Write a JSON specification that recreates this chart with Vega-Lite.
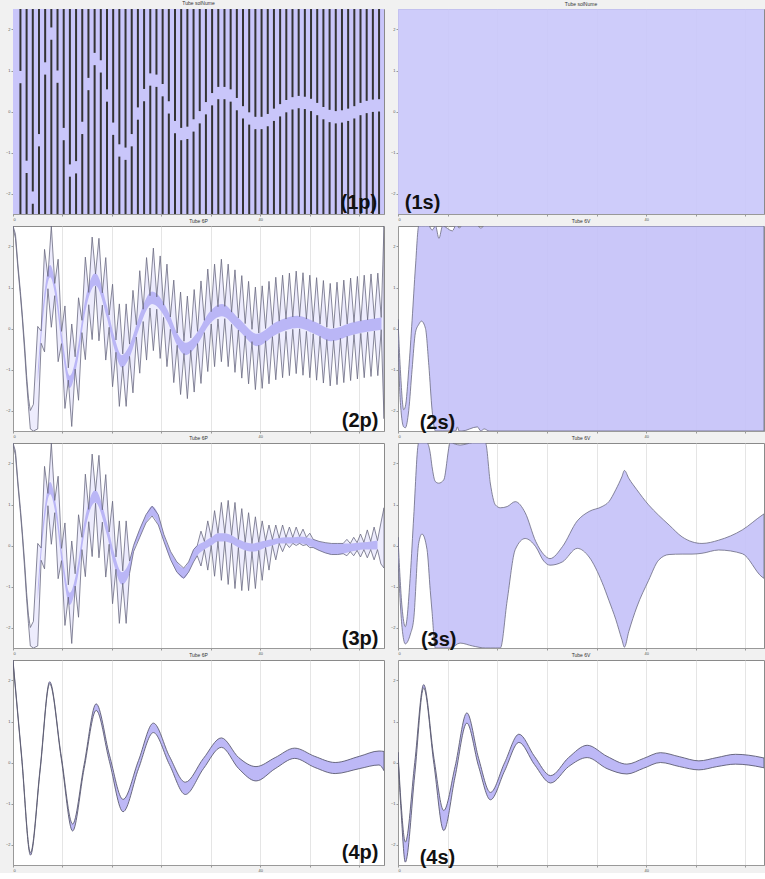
{
"$schema": "https://vega.github.io/schema/vega-lite/v6.json",
"background": "#f1f1f1",
"padding": {"left": 4, "top": 0, "right": 0, "bottom": 0},
"bounds": "flush",
"columns": 2,
"spacing": {"row": 12, "column": 14},
"config": {
  "view": {"stroke": "#8a8a8a", "fill": "#ffffff"},
  "axisX": {"labelExpr": "datum.value % 10 === 0 ? datum.label : ''", "grid": true, "gridColor": "#dadada", "gridWidth": 0.7, "labelFontSize": 4, "labelColor": "#555", "tickSize": 2, "tickColor": "#999", "domainColor": "#999", "labelPadding": 1},
  "axisY": {"grid": false, "labelFontSize": 4, "labelColor": "#555", "tickSize": 2, "tickColor": "#999", "domainColor": "#999", "labelPadding": 1},
  "title": {"fontSize": 5, "fontWeight": "normal", "color": "#333", "offset": 2}
},
"datasets": {
"full": [{"x":0,"lo":-2.5,"hi":2.5},{"x":60,"lo":-2.5,"hi":2.5}],
"p1s": [{"x":1.2,"lo":-2.5,"hi":0.69},{"x":1.2,"lo":0.99,"hi":2.5},{"x":2.2,"lo":-2.5,"hi":-1.5},{"x":2.2,"lo":-1.2,"hi":2.5},{"x":3.2,"lo":-2.5,"hi":-2.25},{"x":3.2,"lo":-1.95,"hi":2.5},{"x":4.2,"lo":-2.5,"hi":-0.85},{"x":4.2,"lo":-0.55,"hi":2.5},{"x":5.2,"lo":-2.5,"hi":0.9},{"x":5.2,"lo":1.2,"hi":2.5},{"x":6.2,"lo":-2.5,"hi":1.75},{"x":6.2,"lo":2.05,"hi":2.5},{"x":7.2,"lo":-2.5,"hi":0.7},{"x":7.2,"lo":1.0,"hi":2.5},{"x":8.2,"lo":-2.5,"hi":-0.7},{"x":8.2,"lo":-0.4,"hi":2.5},{"x":9.2,"lo":-2.5,"hi":-1.59},{"x":9.2,"lo":-1.29,"hi":2.5},{"x":10.2,"lo":-2.5,"hi":-1.51},{"x":10.2,"lo":-1.21,"hi":2.5},{"x":11.2,"lo":-2.5,"hi":-0.55},{"x":11.2,"lo":-0.25,"hi":2.5},{"x":12.2,"lo":-2.5,"hi":0.52},{"x":12.2,"lo":0.82,"hi":2.5},{"x":13.2,"lo":-2.5,"hi":1.13},{"x":13.2,"lo":1.43,"hi":2.5},{"x":14.2,"lo":-2.5,"hi":0.95},{"x":14.2,"lo":1.25,"hi":2.5},{"x":15.2,"lo":-2.5,"hi":0.24},{"x":15.2,"lo":0.54,"hi":2.5},{"x":16.2,"lo":-2.5,"hi":-0.57},{"x":16.2,"lo":-0.27,"hi":2.5},{"x":17.2,"lo":-2.5,"hi":-1.1},{"x":17.2,"lo":-0.8,"hi":2.5},{"x":18.2,"lo":-2.5,"hi":-1.18},{"x":18.2,"lo":-0.88,"hi":2.5},{"x":19.2,"lo":-2.5,"hi":-0.85},{"x":19.2,"lo":-0.55,"hi":2.5},{"x":20.2,"lo":-2.5,"hi":-0.2},{"x":20.2,"lo":0.1,"hi":2.5},{"x":21.2,"lo":-2.5,"hi":0.25},{"x":21.2,"lo":0.55,"hi":2.5},{"x":22.2,"lo":-2.5,"hi":0.63},{"x":22.2,"lo":0.93,"hi":2.5},{"x":23.2,"lo":-2.5,"hi":0.6},{"x":23.2,"lo":0.9,"hi":2.5},{"x":24.2,"lo":-2.5,"hi":0.37},{"x":24.2,"lo":0.67,"hi":2.5},{"x":25.2,"lo":-2.5,"hi":-0.05},{"x":25.2,"lo":0.25,"hi":2.5},{"x":26.2,"lo":-2.5,"hi":-0.53},{"x":26.2,"lo":-0.23,"hi":2.5},{"x":27.2,"lo":-2.5,"hi":-0.7},{"x":27.2,"lo":-0.4,"hi":2.5},{"x":28.2,"lo":-2.5,"hi":-0.67},{"x":28.2,"lo":-0.37,"hi":2.5},{"x":29.2,"lo":-2.5,"hi":-0.49},{"x":29.2,"lo":-0.19,"hi":2.5},{"x":30.2,"lo":-2.5,"hi":-0.29},{"x":30.2,"lo":0.01,"hi":2.5},{"x":31.2,"lo":-2.5,"hi":-0.07},{"x":31.2,"lo":0.23,"hi":2.5},{"x":32.2,"lo":-2.5,"hi":0.15},{"x":32.2,"lo":0.45,"hi":2.5},{"x":33.2,"lo":-2.5,"hi":0.3},{"x":33.2,"lo":0.6,"hi":2.5},{"x":34.2,"lo":-2.5,"hi":0.3},{"x":34.2,"lo":0.6,"hi":2.5},{"x":35.2,"lo":-2.5,"hi":0.24},{"x":35.2,"lo":0.54,"hi":2.5},{"x":36.2,"lo":-2.5,"hi":0.03},{"x":36.2,"lo":0.33,"hi":2.5},{"x":37.2,"lo":-2.5,"hi":-0.17},{"x":37.2,"lo":0.13,"hi":2.5},{"x":38.2,"lo":-2.5,"hi":-0.32},{"x":38.2,"lo":-0.02,"hi":2.5},{"x":39.2,"lo":-2.5,"hi":-0.43},{"x":39.2,"lo":-0.13,"hi":2.5},{"x":40.2,"lo":-2.5,"hi":-0.43},{"x":40.2,"lo":-0.13,"hi":2.5},{"x":41.2,"lo":-2.5,"hi":-0.36},{"x":41.2,"lo":-0.06,"hi":2.5},{"x":42.2,"lo":-2.5,"hi":-0.23},{"x":42.2,"lo":0.07,"hi":2.5},{"x":43.2,"lo":-2.5,"hi":-0.12},{"x":43.2,"lo":0.18,"hi":2.5},{"x":44.2,"lo":-2.5,"hi":-0.02},{"x":44.2,"lo":0.28,"hi":2.5},{"x":45.2,"lo":-2.5,"hi":0.05},{"x":45.2,"lo":0.35,"hi":2.5},{"x":46.2,"lo":-2.5,"hi":0.08},{"x":46.2,"lo":0.38,"hi":2.5},{"x":47.2,"lo":-2.5,"hi":0.06},{"x":47.2,"lo":0.36,"hi":2.5},{"x":48.2,"lo":-2.5,"hi":0.01},{"x":48.2,"lo":0.31,"hi":2.5},{"x":49.2,"lo":-2.5,"hi":-0.09},{"x":49.2,"lo":0.21,"hi":2.5},{"x":50.2,"lo":-2.5,"hi":-0.19},{"x":50.2,"lo":0.11,"hi":2.5},{"x":51.2,"lo":-2.5,"hi":-0.26},{"x":51.2,"lo":0.04,"hi":2.5},{"x":52.2,"lo":-2.5,"hi":-0.29},{"x":52.2,"lo":0.01,"hi":2.5},{"x":53.2,"lo":-2.5,"hi":-0.27},{"x":53.2,"lo":0.03,"hi":2.5},{"x":54.2,"lo":-2.5,"hi":-0.23},{"x":54.2,"lo":0.07,"hi":2.5},{"x":55.2,"lo":-2.5,"hi":-0.17},{"x":55.2,"lo":0.13,"hi":2.5},{"x":56.2,"lo":-2.5,"hi":-0.09},{"x":56.2,"lo":0.21,"hi":2.5},{"x":57.2,"lo":-2.5,"hi":-0.04},{"x":57.2,"lo":0.26,"hi":2.5},{"x":58.2,"lo":-2.5,"hi":-0.01},{"x":58.2,"lo":0.29,"hi":2.5},{"x":59.2,"lo":-2.5,"hi":0.0},{"x":59.2,"lo":0.3,"hi":2.5}],
"p2z": [{"x":0,"lo":2.45,"hi":2.5},{"x":0.4,"lo":2.2,"hi":2.3},{"x":0.8,"lo":1.45,"hi":1.55},{"x":1.2,"lo":0.8,"hi":0.9},{"x":1.5,"lo":0.25,"hi":0.35},{"x":1.9,"lo":-0.6,"hi":-0.45},{"x":2.2,"lo":-1.3,"hi":-1.15},{"x":2.5,"lo":-1.9,"hi":-1.7},{"x":2.8,"lo":-2.45,"hi":-2.0},{"x":3.3,"lo":-2.5,"hi":-1.85},
{"x":4.0,"lo":-2.45,"hi":0.05},{"x":4.55,"lo":-0.36,"hi":-0.06},{"x":5.1,"lo":-0.57,"hi":1.93},{"x":5.65,"lo":0.97,"hi":1.27},{"x":6.2,"lo":0.03,"hi":2.5},{"x":6.75,"lo":0.8,"hi":1.1},{"x":7.3,"lo":-0.81,"hi":1.69},{"x":7.85,"lo":-0.37,"hi":-0.07},{"x":8.4,"lo":-1.95,"hi":0.55},{"x":8.95,"lo":-1.26,"hi":-0.96},{"x":9.5,"lo":-2.39,"hi":0.11},{"x":10.05,"lo":-0.99,"hi":-0.69},{"x":10.6,"lo":-1.75,"hi":0.75},{"x":11.15,"lo":-0.1,"hi":0.2},{"x":11.7,"lo":-0.76,"hi":1.74},{"x":12.25,"lo":0.58,"hi":0.88},{"x":12.8,"lo":-0.27,"hi":2.23},{"x":13.35,"lo":1.03,"hi":1.33},{"x":13.9,"lo":-0.3,"hi":2.2},{"x":14.45,"lo":0.57,"hi":0.87},{"x":15.0,"lo":-0.77,"hi":1.73},{"x":15.55,"lo":0.03,"hi":0.33},{"x":16.1,"lo":-1.42,"hi":1.08},{"x":16.65,"lo":-0.58,"hi":-0.28},{"x":17.2,"lo":-1.9,"hi":0.6},{"x":17.75,"lo":-0.92,"hi":-0.62},{"x":18.3,"lo":-1.9,"hi":0.6},{"x":18.85,"lo":-0.68,"hi":-0.38},{"x":19.4,"lo":-1.57,"hi":0.93},{"x":19.95,"lo":-0.21,"hi":0.09},{"x":20.5,"lo":-1.09,"hi":1.41},{"x":21.05,"lo":0.17,"hi":0.47},{"x":21.6,"lo":-0.77,"hi":1.73},{"x":22.15,"lo":0.5,"hi":0.8},{"x":22.7,"lo":-0.54,"hi":1.96},{"x":23.25,"lo":0.47,"hi":0.77},{"x":23.8,"lo":-0.73,"hi":1.77},{"x":24.35,"lo":0.27,"hi":0.57},{"x":24.9,"lo":-0.93,"hi":1.57},{"x":25.45,"lo":-0.02,"hi":0.28},{"x":26.0,"lo":-1.32,"hi":1.18},{"x":26.55,"lo":-0.41,"hi":-0.11},{"x":27.1,"lo":-1.61,"hi":0.89},{"x":27.65,"lo":-0.61,"hi":-0.31},{"x":28.2,"lo":-1.71,"hi":0.79},{"x":28.75,"lo":-0.53,"hi":-0.23},{"x":29.3,"lo":-1.55,"hi":0.95},{"x":29.85,"lo":-0.37,"hi":-0.07},{"x":30.4,"lo":-1.34,"hi":1.16},{"x":30.95,"lo":-0.1,"hi":0.2},{"x":31.5,"lo":-1.05,"hi":1.45},{"x":32.05,"lo":0.11,"hi":0.41},{"x":32.6,"lo":-0.93,"hi":1.57},{"x":33.15,"lo":0.23,"hi":0.53},{"x":33.7,"lo":-0.81,"hi":1.69},{"x":34.25,"lo":0.24,"hi":0.54},{"x":34.8,"lo":-0.93,"hi":1.57},{"x":35.35,"lo":0.1,"hi":0.4},{"x":35.9,"lo":-1.07,"hi":1.43},{"x":36.45,"lo":-0.04,"hi":0.26},{"x":37.0,"lo":-1.21,"hi":1.29},{"x":37.55,"lo":-0.18,"hi":0.12},{"x":38.1,"lo":-1.35,"hi":1.15},{"x":38.65,"lo":-0.32,"hi":-0.02},{"x":39.2,"lo":-1.49,"hi":1.01},{"x":39.75,"lo":-0.41,"hi":-0.11},{"x":40.3,"lo":-1.46,"hi":1.04},{"x":40.85,"lo":-0.3,"hi":0.0},{"x":41.4,"lo":-1.35,"hi":1.15},{"x":41.95,"lo":-0.2,"hi":0.1},{"x":42.5,"lo":-1.25,"hi":1.25},{"x":43.05,"lo":-0.12,"hi":0.18},{"x":43.6,"lo":-1.2,"hi":1.3},{"x":44.15,"lo":-0.07,"hi":0.23},{"x":44.7,"lo":-1.15,"hi":1.35},{"x":45.25,"lo":-0.02,"hi":0.28},{"x":45.8,"lo":-1.1,"hi":1.4},{"x":46.35,"lo":-0.01,"hi":0.29},{"x":46.9,"lo":-1.14,"hi":1.36},{"x":47.45,"lo":-0.07,"hi":0.23},{"x":48.0,"lo":-1.2,"hi":1.3},{"x":48.55,"lo":-0.13,"hi":0.17},{"x":49.1,"lo":-1.26,"hi":1.24},{"x":49.65,"lo":-0.19,"hi":0.11},{"x":50.2,"lo":-1.33,"hi":1.17},{"x":50.75,"lo":-0.27,"hi":0.03},{"x":51.3,"lo":-1.4,"hi":1.1},{"x":51.85,"lo":-0.29,"hi":0.01},{"x":52.4,"lo":-1.37,"hi":1.13},{"x":52.95,"lo":-0.24,"hi":0.06},{"x":53.5,"lo":-1.32,"hi":1.18},{"x":54.05,"lo":-0.19,"hi":0.11},{"x":54.6,"lo":-1.27,"hi":1.23},{"x":55.15,"lo":-0.15,"hi":0.15},{"x":55.7,"lo":-1.23,"hi":1.27},{"x":56.25,"lo":-0.12,"hi":0.18},{"x":56.8,"lo":-1.2,"hi":1.3},{"x":57.35,"lo":-0.09,"hi":0.21},{"x":57.9,"lo":-1.17,"hi":1.33},{"x":58.45,"lo":-0.06,"hi":0.24},{"x":59.0,"lo":-1.15,"hi":1.35},{"x":59.55,"lo":-0.03,"hi":0.27},{"x":60,"lo":-2.2,"hi":2.5}],
"p2c": [{"x":4.0,"lo":-1.35,"hi":-1.05},{"x":5.0,"lo":0.45,"hi":0.75},{"x":6.0,"lo":1.25,"hi":1.55},{"x":7.0,"lo":0.65,"hi":0.95},{"x":8.0,"lo":-0.55,"hi":-0.25},{"x":9.2,"lo":-1.45,"hi":-1.15},{"x":10.5,"lo":-0.75,"hi":-0.45},{"x":11.5,"lo":0.25,"hi":0.55},{"x":13.3,"lo":1.05,"hi":1.35},{"x":15.2,"lo":0.25,"hi":0.55},{"x":16.3,"lo":-0.45,"hi":-0.15},{"x":17.6,"lo":-0.95,"hi":-0.65},{"x":19.0,"lo":-0.65,"hi":-0.35},{"x":20.3,"lo":-0.05,"hi":0.25},{"x":22.5,"lo":0.6,"hi":0.9},{"x":25.0,"lo":0.15,"hi":0.45},{"x":26.5,"lo":-0.4,"hi":-0.1},{"x":27.9,"lo":-0.65,"hi":-0.35},{"x":30.0,"lo":-0.35,"hi":-0.05},{"x":31.5,"lo":0.05,"hi":0.35},{"x":33.8,"lo":0.3,"hi":0.6},{"x":36.5,"lo":-0.05,"hi":0.25},{"x":39.5,"lo":-0.43,"hi":-0.13},{"x":42.5,"lo":-0.15,"hi":0.15},{"x":46.0,"lo":0.01,"hi":0.31},{"x":49.0,"lo":-0.15,"hi":0.15},{"x":51.4,"lo":-0.31,"hi":-0.01},{"x":55.0,"lo":-0.15,"hi":0.15},{"x":59.6,"lo":-0.03,"hi":0.27}],
"p3z": [{"x":0,"lo":2.45,"hi":2.5},{"x":0.4,"lo":2.2,"hi":2.3},{"x":0.8,"lo":1.45,"hi":1.55},{"x":1.2,"lo":0.8,"hi":0.9},{"x":1.5,"lo":0.25,"hi":0.35},{"x":1.9,"lo":-0.6,"hi":-0.45},{"x":2.2,"lo":-1.3,"hi":-1.15},{"x":2.5,"lo":-1.9,"hi":-1.7},{"x":2.8,"lo":-2.45,"hi":-2.0},{"x":3.3,"lo":-2.5,"hi":-1.85},
{"x":4.0,"lo":-2.45,"hi":0.05},{"x":4.55,"lo":-0.36,"hi":-0.06},{"x":5.1,"lo":-0.57,"hi":1.93},{"x":5.65,"lo":0.97,"hi":1.27},{"x":6.2,"lo":0.03,"hi":2.5},{"x":6.75,"lo":0.8,"hi":1.1},{"x":7.3,"lo":-0.81,"hi":1.69},{"x":7.85,"lo":-0.37,"hi":-0.07},{"x":8.4,"lo":-1.95,"hi":0.55},{"x":8.95,"lo":-1.26,"hi":-0.96},{"x":9.5,"lo":-2.39,"hi":0.11},{"x":10.05,"lo":-0.99,"hi":-0.69},{"x":10.6,"lo":-1.75,"hi":0.75},{"x":11.15,"lo":-0.1,"hi":0.2},{"x":11.7,"lo":-0.76,"hi":1.74},{"x":12.25,"lo":0.58,"hi":0.88},{"x":12.8,"lo":-0.27,"hi":2.23},{"x":13.35,"lo":1.03,"hi":1.33},{"x":13.9,"lo":-0.3,"hi":2.2},{"x":14.45,"lo":0.57,"hi":0.87},{"x":15.0,"lo":-0.77,"hi":1.73},{"x":15.55,"lo":0.03,"hi":0.33},{"x":16.1,"lo":-1.42,"hi":1.08},{"x":16.65,"lo":-0.58,"hi":-0.28},{"x":17.2,"lo":-1.9,"hi":0.6},{"x":17.75,"lo":-0.92,"hi":-0.62},{"x":18.3,"lo":-1.9,"hi":0.6},{"x":18.85,"lo":-0.68,"hi":-0.38},
{"x":19.5,"lo":-0.15,"hi":0.0},{"x":20.5,"lo":0.2,"hi":0.4},{"x":21.5,"lo":0.55,"hi":0.75},{"x":22.5,"lo":0.72,"hi":0.96},{"x":23.5,"lo":0.5,"hi":0.75},{"x":24.4,"lo":0.1,"hi":0.27},{"x":25.5,"lo":-0.35,"hi":-0.15},{"x":26.5,"lo":-0.65,"hi":-0.4},{"x":27.6,"lo":-0.8,"hi":-0.55},{"x":28.4,"lo":-0.65,"hi":-0.4},{"x":29.2,"lo":-0.4,"hi":-0.1},{"x":29.8,"lo":-0.25,"hi":0.0},
{"x":30.4,"lo":-0.5,"hi":0.35},{"x":30.95,"lo":-0.1,"hi":0.1},{"x":31.5,"lo":-0.6,"hi":0.6},{"x":32.05,"lo":0.0,"hi":0.2},{"x":32.6,"lo":-0.75,"hi":0.85},{"x":33.15,"lo":0.1,"hi":0.3},{"x":33.7,"lo":-0.85,"hi":1.05},{"x":34.25,"lo":0.1,"hi":0.3},{"x":34.8,"lo":-0.95,"hi":1.1},{"x":35.35,"lo":0.05,"hi":0.25},{"x":35.9,"lo":-1.05,"hi":1.05},{"x":36.45,"lo":-0.05,"hi":0.15},{"x":37.0,"lo":-1.1,"hi":0.9},{"x":37.55,"lo":-0.12,"hi":0.08},{"x":38.1,"lo":-1.1,"hi":0.8},{"x":38.65,"lo":-0.15,"hi":0.05},{"x":39.2,"lo":-1.05,"hi":0.7},{"x":39.75,"lo":-0.12,"hi":0.08},{"x":40.3,"lo":-0.85,"hi":0.6},{"x":40.85,"lo":-0.05,"hi":0.12},{"x":41.4,"lo":-0.6,"hi":0.5},{"x":41.95,"lo":0.0,"hi":0.15},{"x":42.5,"lo":-0.35,"hi":0.5},{"x":43.05,"lo":0.05,"hi":0.18},{"x":43.6,"lo":-0.15,"hi":0.5},{"x":44.15,"lo":0.05,"hi":0.2},{"x":44.7,"lo":-0.05,"hi":0.45},{"x":45.25,"lo":0.05,"hi":0.2},{"x":45.8,"lo":0.0,"hi":0.45},{"x":46.35,"lo":0.05,"hi":0.22},{"x":46.9,"lo":0.0,"hi":0.4},{"x":47.45,"lo":0.02,"hi":0.2},{"x":48.0,"lo":-0.05,"hi":0.3},{"x":48.55,"lo":-0.05,"hi":0.15},{"x":49.5,"lo":-0.12,"hi":0.1},{"x":50.5,"lo":-0.18,"hi":0.07},{"x":51.5,"lo":-0.22,"hi":0.05},{"x":52.5,"lo":-0.22,"hi":0.05},{"x":53.4,"lo":-0.2,"hi":0.05},{"x":54.0,"lo":-0.25,"hi":0.15},{"x":54.55,"lo":-0.15,"hi":0.05},{"x":55.1,"lo":-0.25,"hi":0.2},{"x":55.65,"lo":-0.12,"hi":0.07},{"x":56.2,"lo":-0.28,"hi":0.28},{"x":56.75,"lo":-0.1,"hi":0.08},{"x":57.3,"lo":-0.3,"hi":0.38},{"x":57.85,"lo":-0.1,"hi":0.1},{"x":58.4,"lo":-0.35,"hi":0.45},{"x":58.95,"lo":-0.1,"hi":0.12},{"x":59.5,"lo":-0.45,"hi":0.55},{"x":60,"lo":-0.55,"hi":0.92}],
"p3c": [{"x":4.0,"lo":-1.35,"hi":-1.05},{"x":5.0,"lo":0.45,"hi":0.75},{"x":6.0,"lo":1.25,"hi":1.55},{"x":7.0,"lo":0.65,"hi":0.95},{"x":8.0,"lo":-0.55,"hi":-0.25},{"x":9.2,"lo":-1.45,"hi":-1.15},{"x":10.5,"lo":-0.75,"hi":-0.45},{"x":11.5,"lo":0.25,"hi":0.55},{"x":13.3,"lo":1.05,"hi":1.35},{"x":15.2,"lo":0.25,"hi":0.55},{"x":16.3,"lo":-0.45,"hi":-0.15},{"x":17.6,"lo":-0.95,"hi":-0.65},{"x":18.85,"lo":-0.68,"hi":-0.38},{"x":19.5,"lo":-0.15,"hi":0.0},{"x":20.5,"lo":0.2,"hi":0.4},{"x":21.5,"lo":0.55,"hi":0.75},{"x":22.5,"lo":0.72,"hi":0.96},{"x":23.5,"lo":0.5,"hi":0.75},{"x":24.4,"lo":0.1,"hi":0.27},{"x":25.5,"lo":-0.35,"hi":-0.15},{"x":26.5,"lo":-0.65,"hi":-0.4},{"x":27.6,"lo":-0.8,"hi":-0.55},{"x":28.4,"lo":-0.65,"hi":-0.4},{"x":29.2,"lo":-0.4,"hi":-0.1},{"x":29.8,"lo":-0.25,"hi":0.0},{"x":30.95,"lo":-0.1,"hi":0.1},{"x":32.05,"lo":0.0,"hi":0.2},{"x":33.15,"lo":0.1,"hi":0.3},{"x":34.25,"lo":0.1,"hi":0.3},{"x":35.35,"lo":0.05,"hi":0.25},{"x":36.45,"lo":-0.05,"hi":0.15},{"x":37.55,"lo":-0.12,"hi":0.08},{"x":38.65,"lo":-0.15,"hi":0.05},{"x":39.75,"lo":-0.12,"hi":0.08},{"x":40.85,"lo":-0.05,"hi":0.12},{"x":41.95,"lo":0.0,"hi":0.15},{"x":43.05,"lo":0.05,"hi":0.18},{"x":44.15,"lo":0.05,"hi":0.2},{"x":45.25,"lo":0.05,"hi":0.2},{"x":46.35,"lo":0.05,"hi":0.22},{"x":47.45,"lo":0.02,"hi":0.2},{"x":48.55,"lo":-0.05,"hi":0.15},{"x":49.5,"lo":-0.12,"hi":0.1},{"x":50.5,"lo":-0.18,"hi":0.07},{"x":51.5,"lo":-0.22,"hi":0.05},{"x":52.5,"lo":-0.22,"hi":0.05},{"x":53.4,"lo":-0.2,"hi":0.05},{"x":54.55,"lo":-0.15,"hi":0.05},{"x":55.65,"lo":-0.12,"hi":0.07},{"x":56.75,"lo":-0.1,"hi":0.08},{"x":57.85,"lo":-0.1,"hi":0.1},{"x":58.95,"lo":-0.1,"hi":0.12}],
"p4": [{"x":0,"lo":2.45,"hi":2.5},{"x":1.4,"lo":0.1,"hi":0.16},{"x":2.83,"lo":-2.26,"hi":-2.2},{"x":4.4,"lo":-0.18,"hi":-0.12},{"x":5.93,"lo":1.92,"hi":1.97},{"x":7.8,"lo":0.1,"hi":0.16},{"x":9.64,"lo":-1.67,"hi":-1.5},{"x":11.5,"lo":-0.15,"hi":-0.05},{"x":13.45,"lo":1.27,"hi":1.43},{"x":15.6,"lo":0.02,"hi":0.18},{"x":17.8,"lo":-1.2,"hi":-0.9},{"x":20.3,"lo":-0.15,"hi":0.05},{"x":22.7,"lo":0.73,"hi":0.96},{"x":25.3,"lo":-0.05,"hi":0.15},{"x":27.87,"lo":-0.78,"hi":-0.48},{"x":30.8,"lo":-0.15,"hi":0.1},{"x":33.7,"lo":0.37,"hi":0.6},{"x":36.5,"lo":-0.15,"hi":0.12},{"x":39.3,"lo":-0.45,"hi":-0.1},{"x":42.4,"lo":-0.15,"hi":0.12},{"x":45.56,"lo":0.1,"hi":0.35},{"x":48.8,"lo":-0.12,"hi":0.15},{"x":52.1,"lo":-0.27,"hi":0.0},{"x":56,"lo":-0.15,"hi":0.15},{"x":59.2,"lo":-0.06,"hi":0.28},{"x":60,"lo":-0.2,"hi":0.27}],
"s2": [{"x":0,"lo":-0.25,"hi":0.22},{"x":0.38,"lo":-1.8,"hi":-1.0},{"x":0.92,"lo":-2.4,"hi":-1.98},{"x":1.19,"lo":-2.42,"hi":-1.9},{"x":1.73,"lo":-2.0,"hi":-1.0},{"x":2.27,"lo":-1.0,"hi":0.2},{"x":2.81,"lo":-0.1,"hi":1.5},{"x":3.35,"lo":0.1,"hi":2.5},{"x":3.78,"lo":0.18,"hi":2.5},{"x":4.43,"lo":0.0,"hi":2.5},{"x":4.97,"lo":-0.9,"hi":2.5},{"x":5.5,"lo":-2.0,"hi":2.4},{"x":6.05,"lo":-2.5,"hi":2.5},{"x":6.6,"lo":-2.5,"hi":2.2},{"x":7.2,"lo":-2.5,"hi":2.5},{"x":8.76,"lo":-2.5,"hi":2.38},{"x":9.3,"lo":-2.5,"hi":2.5},{"x":9.57,"lo":-2.4,"hi":2.5},{"x":9.84,"lo":-2.5,"hi":2.45},{"x":10.3,"lo":-2.5,"hi":2.5},{"x":12.8,"lo":-2.4,"hi":2.5},{"x":13.35,"lo":-2.5,"hi":2.45},{"x":13.9,"lo":-2.45,"hi":2.5},{"x":14.7,"lo":-2.5,"hi":2.5},{"x":59,"lo":-2.5,"hi":2.5}],
"s3": [{"x":0,"lo":-0.3,"hi":0.2},{"x":0.65,"lo":-2.0,"hi":-1.5},{"x":1.18,"lo":-2.4,"hi":-1.98},{"x":2.0,"lo":-2.16,"hi":-0.69},{"x":2.53,"lo":-1.8,"hi":0.7},{"x":3.33,"lo":0.05,"hi":2.5},{"x":3.87,"lo":0.28,"hi":2.5},{"x":4.68,"lo":-0.1,"hi":2.5},{"x":5.2,"lo":-1.1,"hi":2.25},{"x":5.48,"lo":-1.6,"hi":1.93},{"x":6.02,"lo":-2.5,"hi":1.56},{"x":6.56,"lo":-2.5,"hi":1.52},{"x":7.37,"lo":-2.5,"hi":1.6},{"x":8.44,"lo":-2.5,"hi":2.5},{"x":10,"lo":-2.38,"hi":2.45},{"x":12,"lo":-2.45,"hi":2.5},{"x":14.1,"lo":-2.5,"hi":2.5},{"x":14.9,"lo":-2.5,"hi":1.5},{"x":15.7,"lo":-2.5,"hi":0.99},{"x":16.5,"lo":-2.5,"hi":0.92},{"x":17.6,"lo":-1.34,"hi":0.95},{"x":18.9,"lo":-0.1,"hi":1.07},{"x":20.5,"lo":0.17,"hi":0.8},{"x":22.2,"lo":-0.03,"hi":0.1},{"x":23.5,"lo":-0.38,"hi":-0.22},{"x":24.5,"lo":-0.48,"hi":-0.32},{"x":26.5,"lo":-0.4,"hi":-0.03},{"x":28.9,"lo":-0.07,"hi":0.6},{"x":30.8,"lo":-0.28,"hi":0.83},{"x":32.9,"lo":-0.9,"hi":0.95},{"x":34,"lo":-1.34,"hi":1.07},{"x":35.1,"lo":-1.8,"hi":1.36},{"x":36.1,"lo":-2.3,"hi":1.68},{"x":36.5,"lo":-2.48,"hi":1.83},{"x":37.2,"lo":-2.1,"hi":1.64},{"x":38.5,"lo":-1.5,"hi":1.36},{"x":40.4,"lo":-0.85,"hi":0.99},{"x":42,"lo":-0.36,"hi":0.74},{"x":43.7,"lo":-0.22,"hi":0.5},{"x":45.8,"lo":-0.21,"hi":0.21},{"x":47.4,"lo":-0.21,"hi":0.09},{"x":49,"lo":-0.19,"hi":0.05},{"x":51.7,"lo":-0.11,"hi":0.13},{"x":55.5,"lo":-0.2,"hi":0.38},{"x":58.7,"lo":-0.77,"hi":0.74},{"x":59,"lo":-0.8,"hi":0.77}],
"s4": [{"x":0,"lo":0.15,"hi":0.25},{"x":0.5,"lo":-1.2,"hi":-1.0},{"x":1.18,"lo":-2.43,"hi":-1.94},{"x":2.7,"lo":-0.3,"hi":0.0},{"x":4.14,"lo":1.82,"hi":1.9},{"x":5.8,"lo":-0.05,"hi":0.1},{"x":7.37,"lo":-1.66,"hi":-1.17},{"x":9.2,"lo":-0.35,"hi":-0.1},{"x":11.1,"lo":0.96,"hi":1.21},{"x":13.0,"lo":-0.1,"hi":0.1},{"x":14.9,"lo":-0.91,"hi":-0.73},{"x":17.2,"lo":-0.2,"hi":0.0},{"x":19.5,"lo":0.49,"hi":0.69},{"x":22,"lo":-0.05,"hi":0.15},{"x":24.6,"lo":-0.5,"hi":-0.32},{"x":27.5,"lo":-0.1,"hi":0.12},{"x":30.5,"lo":0.12,"hi":0.42},{"x":33.7,"lo":-0.15,"hi":0.15},{"x":36.9,"lo":-0.28,"hi":-0.04},{"x":39.6,"lo":-0.14,"hi":0.1},{"x":42.3,"lo":0.0,"hi":0.24},{"x":45.4,"lo":-0.1,"hi":0.14},{"x":48.5,"lo":-0.18,"hi":0.04},{"x":51.4,"lo":-0.1,"hi":0.12},{"x":54.4,"lo":-0.04,"hi":0.2},{"x":58.7,"lo":-0.12,"hi":0.12},{"x":59,"lo":-0.13,"hi":0.11}],
"labels": [{"panel":"1p","x":58.9,"y":-2.38,"t":"(1p)"},{"panel":"1s","x":1.1,"y":-2.38,"t":"(1s)"},{"panel":"2p","x":59.1,"y":-2.4,"t":"(2p)"},{"panel":"2s","x":3.5,"y":-2.45,"t":"(2s)"},{"panel":"3p","x":59.1,"y":-2.43,"t":"(3p)"},{"panel":"3s","x":3.7,"y":-2.45,"t":"(3s)"},{"panel":"4p","x":59.1,"y":-2.35,"t":"(4p)"},{"panel":"4s","x":3.5,"y":-2.48,"t":"(4s)"}]
},
"concat": [
 {"width": 371, "height": 205, "title": "Tube solNume", "layer": [
  {"data": {"name": "full"}, "mark": {"type": "area", "color": "#c9c6fa", "opacity": 1, "clip": true},
   "encoding": {"x": {"field": "x", "type": "quantitative", "title": null, "scale": {"domain": [0, 60], "nice": false}, "axis": {"values": [0,2,4,6,8,10,12,14,16,18,20,22,24,26,28,30,32,34,36,38,40,42,44,46,48,50,52,54,56,58,60]}},
    "y": {"field": "lo", "type": "quantitative", "title": null, "scale": {"domain": [-2.5, 2.5], "nice": false}, "axis": {"values": [-2,-1,0,1,2]}}, "y2": {"field": "hi"}}},
  {"data": {"name": "p1s"}, "mark": {"type": "rule", "color": "#333333", "strokeWidth": 2},
   "encoding": {"x": {"field": "x", "type": "quantitative", "title": null, "scale": {"domain": [0, 60], "nice": false}},
    "y": {"field": "lo", "type": "quantitative", "title": null, "scale": {"domain": [-2.5, 2.5], "nice": false}}, "y2": {"field": "hi"}}},
  {"data": {"name": "labels"}, "transform": [{"filter": "datum.panel === '1p'"}], "mark": {"type": "text", "align": "right", "baseline": "alphabetic", "fontSize": 20, "fontWeight": "bold", "font": "Liberation Sans", "color": "#111"},
   "encoding": {"x": {"field": "x", "type": "quantitative", "title": null, "scale": {"domain": [0, 60], "nice": false}}, "y": {"field": "y", "type": "quantitative", "title": null, "scale": {"domain": [-2.5, 2.5], "nice": false}}, "text": {"field": "t"}}}
 ]},
 {"width": 366, "height": 205, "title": "Tube solNume", "layer": [
  {"data": {"name": "full"}, "mark": {"type": "area", "color": "#c9c6fa", "opacity": 0.9, "clip": true},
   "encoding": {"x": {"field": "x", "type": "quantitative", "title": null, "scale": {"domain": [0, 59], "nice": false}, "axis": {"values": [0,2,4,6,8,10,12,14,16,18,20,22,24,26,28,30,32,34,36,38,40,42,44,46,48,50,52,54,56,58]}},
    "y": {"field": "lo", "type": "quantitative", "title": null, "scale": {"domain": [-2.5, 2.5], "nice": false}, "axis": {"values": [-2,-1,0,1,2]}}, "y2": {"field": "hi"}}},
  {"data": {"name": "labels"}, "transform": [{"filter": "datum.panel === '1s'"}], "mark": {"type": "text", "align": "left", "baseline": "alphabetic", "fontSize": 20, "fontWeight": "bold", "font": "Liberation Sans", "color": "#111"},
   "encoding": {"x": {"field": "x", "type": "quantitative", "title": null, "scale": {"domain": [0, 59], "nice": false}}, "y": {"field": "y", "type": "quantitative", "title": null, "scale": {"domain": [-2.5, 2.5], "nice": false}}, "text": {"field": "t"}}}
 ]},
 {"width": 371, "height": 205, "title": "Tube 6P", "layer": [
  {"data": {"name": "p2c"}, "mark": {"type": "area", "color": "#b7b2f5", "interpolate": "monotone", "clip": true},
   "encoding": {"x": {"field": "x", "type": "quantitative", "title": null, "scale": {"domain": [0, 60], "nice": false}, "axis": {"values": [0,2,4,6,8,10,12,14,16,18,20,22,24,26,28,30,32,34,36,38,40,42,44,46,48,50,52,54,56,58,60]}},
    "y": {"field": "lo", "type": "quantitative", "title": null, "scale": {"domain": [-2.5, 2.5], "nice": false}, "axis": {"values": [-2,-1,0,1,2]}}, "y2": {"field": "hi"}}},
  {"data": {"name": "p2z"}, "mark": {"type": "area", "color": "#c4c0f8", "fillOpacity": 0.3, "stroke": "#6a6a80", "strokeWidth": 0.8, "clip": true},
   "encoding": {"x": {"field": "x", "type": "quantitative", "title": null, "scale": {"domain": [0, 60], "nice": false}},
    "y": {"field": "lo", "type": "quantitative", "title": null, "scale": {"domain": [-2.5, 2.5], "nice": false}}, "y2": {"field": "hi"}}},
  {"data": {"name": "labels"}, "transform": [{"filter": "datum.panel === '2p'"}], "mark": {"type": "text", "align": "right", "baseline": "alphabetic", "fontSize": 20, "fontWeight": "bold", "font": "Liberation Sans", "color": "#111"},
   "encoding": {"x": {"field": "x", "type": "quantitative", "title": null, "scale": {"domain": [0, 60], "nice": false}}, "y": {"field": "y", "type": "quantitative", "title": null, "scale": {"domain": [-2.5, 2.5], "nice": false}}, "text": {"field": "t"}}}
 ]},
 {"width": 366, "height": 205, "title": "Tube 6V", "layer": [
  {"data": {"name": "s2"}, "mark": {"type": "area", "color": "#c6c2f8", "fillOpacity": 0.92, "stroke": "#6a6a80", "strokeWidth": 0.8, "interpolate": "monotone", "clip": true},
   "encoding": {"x": {"field": "x", "type": "quantitative", "title": null, "scale": {"domain": [0, 59], "nice": false}, "axis": {"values": [0,2,4,6,8,10,12,14,16,18,20,22,24,26,28,30,32,34,36,38,40,42,44,46,48,50,52,54,56,58]}},
    "y": {"field": "lo", "type": "quantitative", "title": null, "scale": {"domain": [-2.5, 2.5], "nice": false}, "axis": {"values": [-2,-1,0,1,2]}}, "y2": {"field": "hi"}}},
  {"data": {"name": "labels"}, "transform": [{"filter": "datum.panel === '2s'"}], "mark": {"type": "text", "align": "left", "baseline": "alphabetic", "fontSize": 20, "fontWeight": "bold", "font": "Liberation Sans", "color": "#111"},
   "encoding": {"x": {"field": "x", "type": "quantitative", "title": null, "scale": {"domain": [0, 59], "nice": false}}, "y": {"field": "y", "type": "quantitative", "title": null, "scale": {"domain": [-2.5, 2.5], "nice": false}}, "text": {"field": "t"}}}
 ]},
 {"width": 371, "height": 205, "title": "Tube 6P", "layer": [
  {"data": {"name": "p3c"}, "mark": {"type": "area", "color": "#b7b2f5", "interpolate": "monotone", "clip": true},
   "encoding": {"x": {"field": "x", "type": "quantitative", "title": null, "scale": {"domain": [0, 60], "nice": false}, "axis": {"values": [0,2,4,6,8,10,12,14,16,18,20,22,24,26,28,30,32,34,36,38,40,42,44,46,48,50,52,54,56,58,60]}},
    "y": {"field": "lo", "type": "quantitative", "title": null, "scale": {"domain": [-2.5, 2.5], "nice": false}, "axis": {"values": [-2,-1,0,1,2]}}, "y2": {"field": "hi"}}},
  {"data": {"name": "p3z"}, "mark": {"type": "area", "color": "#c4c0f8", "fillOpacity": 0.3, "stroke": "#6a6a80", "strokeWidth": 0.8, "clip": true},
   "encoding": {"x": {"field": "x", "type": "quantitative", "title": null, "scale": {"domain": [0, 60], "nice": false}},
    "y": {"field": "lo", "type": "quantitative", "title": null, "scale": {"domain": [-2.5, 2.5], "nice": false}}, "y2": {"field": "hi"}}},
  {"data": {"name": "labels"}, "transform": [{"filter": "datum.panel === '3p'"}], "mark": {"type": "text", "align": "right", "baseline": "alphabetic", "fontSize": 20, "fontWeight": "bold", "font": "Liberation Sans", "color": "#111"},
   "encoding": {"x": {"field": "x", "type": "quantitative", "title": null, "scale": {"domain": [0, 60], "nice": false}}, "y": {"field": "y", "type": "quantitative", "title": null, "scale": {"domain": [-2.5, 2.5], "nice": false}}, "text": {"field": "t"}}}
 ]},
 {"width": 366, "height": 205, "title": "Tube 6V", "layer": [
  {"data": {"name": "s3"}, "mark": {"type": "area", "color": "#c6c2f8", "fillOpacity": 0.92, "stroke": "#6a6a80", "strokeWidth": 0.8, "interpolate": "monotone", "clip": true},
   "encoding": {"x": {"field": "x", "type": "quantitative", "title": null, "scale": {"domain": [0, 59], "nice": false}, "axis": {"values": [0,2,4,6,8,10,12,14,16,18,20,22,24,26,28,30,32,34,36,38,40,42,44,46,48,50,52,54,56,58]}},
    "y": {"field": "lo", "type": "quantitative", "title": null, "scale": {"domain": [-2.5, 2.5], "nice": false}, "axis": {"values": [-2,-1,0,1,2]}}, "y2": {"field": "hi"}}},
  {"data": {"name": "labels"}, "transform": [{"filter": "datum.panel === '3s'"}], "mark": {"type": "text", "align": "left", "baseline": "alphabetic", "fontSize": 20, "fontWeight": "bold", "font": "Liberation Sans", "color": "#111"},
   "encoding": {"x": {"field": "x", "type": "quantitative", "title": null, "scale": {"domain": [0, 59], "nice": false}}, "y": {"field": "y", "type": "quantitative", "title": null, "scale": {"domain": [-2.5, 2.5], "nice": false}}, "text": {"field": "t"}}}
 ]},
 {"width": 371, "height": 205, "title": "Tube 6P", "layer": [
  {"data": {"name": "p4"}, "mark": {"type": "area", "color": "#bdb8f6", "stroke": "#5c5c72", "strokeWidth": 0.9, "interpolate": "monotone", "clip": true},
   "encoding": {"x": {"field": "x", "type": "quantitative", "title": null, "scale": {"domain": [0, 60], "nice": false}, "axis": {"values": [0,2,4,6,8,10,12,14,16,18,20,22,24,26,28,30,32,34,36,38,40,42,44,46,48,50,52,54,56,58,60]}},
    "y": {"field": "lo", "type": "quantitative", "title": null, "scale": {"domain": [-2.5, 2.5], "nice": false}, "axis": {"values": [-2,-1,0,1,2]}}, "y2": {"field": "hi"}}},
  {"data": {"name": "labels"}, "transform": [{"filter": "datum.panel === '4p'"}], "mark": {"type": "text", "align": "right", "baseline": "alphabetic", "fontSize": 20, "fontWeight": "bold", "font": "Liberation Sans", "color": "#111"},
   "encoding": {"x": {"field": "x", "type": "quantitative", "title": null, "scale": {"domain": [0, 60], "nice": false}}, "y": {"field": "y", "type": "quantitative", "title": null, "scale": {"domain": [-2.5, 2.5], "nice": false}}, "text": {"field": "t"}}}
 ]},
 {"width": 366, "height": 205, "title": "Tube 6V", "layer": [
  {"data": {"name": "s4"}, "mark": {"type": "area", "color": "#bdb8f6", "stroke": "#5c5c72", "strokeWidth": 0.9, "interpolate": "monotone", "clip": true},
   "encoding": {"x": {"field": "x", "type": "quantitative", "title": null, "scale": {"domain": [0, 59], "nice": false}, "axis": {"values": [0,2,4,6,8,10,12,14,16,18,20,22,24,26,28,30,32,34,36,38,40,42,44,46,48,50,52,54,56,58]}},
    "y": {"field": "lo", "type": "quantitative", "title": null, "scale": {"domain": [-2.5, 2.5], "nice": false}, "axis": {"values": [-2,-1,0,1,2]}}, "y2": {"field": "hi"}}},
  {"data": {"name": "labels"}, "transform": [{"filter": "datum.panel === '4s'"}], "mark": {"type": "text", "align": "left", "baseline": "alphabetic", "fontSize": 20, "fontWeight": "bold", "font": "Liberation Sans", "color": "#111"},
   "encoding": {"x": {"field": "x", "type": "quantitative", "title": null, "scale": {"domain": [0, 59], "nice": false}}, "y": {"field": "y", "type": "quantitative", "title": null, "scale": {"domain": [-2.5, 2.5], "nice": false}}, "text": {"field": "t"}}}
 ]}
]
}
